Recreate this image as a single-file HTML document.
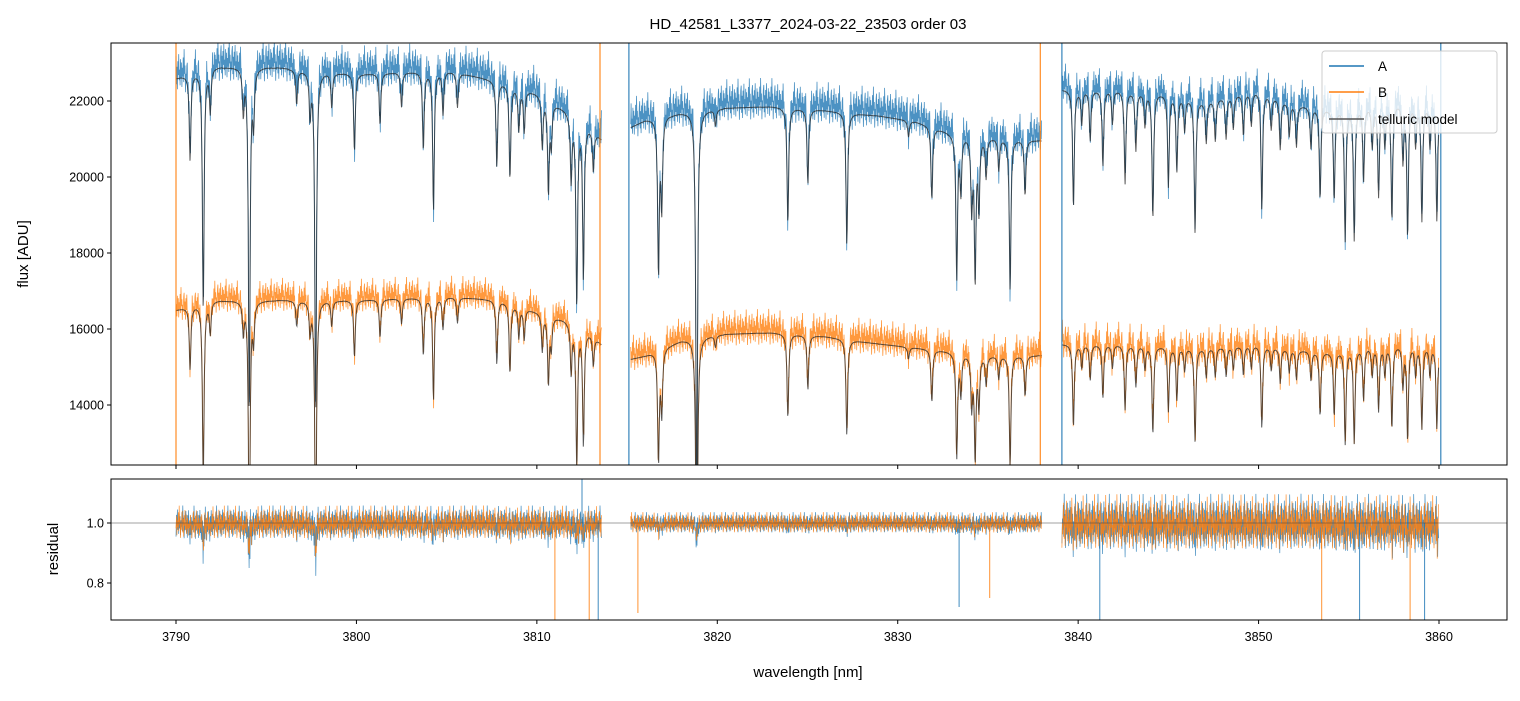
<!DOCTYPE html>
<html><head><meta charset="utf-8"><style>
body{margin:0;background:#fff;}
svg text{font-family:"Liberation Sans","DejaVu Sans",sans-serif;fill:#000;}
</style></head><body>
<svg id="c" width="1520" height="696" xmlns="http://www.w3.org/2000/svg">
<text x="808" y="29" font-size="15" text-anchor="middle">HD_42581_L3377_2024-03-22_23503  order 03</text>
<text transform="translate(28,254) rotate(-90)" font-size="15" text-anchor="middle">flux [ADU]</text>
<text transform="translate(58,549) rotate(-90)" font-size="15" text-anchor="middle">residual</text>
<text x="808" y="677" font-size="15" text-anchor="middle">wavelength [nm]</text>
<defs><clipPath id="ct"><rect x="111" y="43" width="1396" height="422"/></clipPath><clipPath id="cb"><rect x="111" y="479" width="1396" height="141"/></clipPath></defs>
<g id="topg" clip-path="url(#ct)"></g>
<g id="botg" clip-path="url(#cb)"></g>
<rect x="111" y="43" width="1396" height="422" fill="none" stroke="#000" stroke-width="1"/>
<rect x="111" y="479" width="1396" height="141" fill="none" stroke="#000" stroke-width="1"/>
<g id="ticks"></g>
<g>
<rect x="1322" y="51" width="175" height="82" rx="3" fill="#fff" fill-opacity="0.8" stroke="#ccc"/>
<line x1="1329" y1="66" x2="1364" y2="66" stroke="#1f77b4" stroke-width="1.5"/>
<text x="1378" y="71" font-size="13.5">A</text>
<line x1="1329" y1="92" x2="1364" y2="92" stroke="#ff7f0e" stroke-width="1.5"/>
<text x="1378" y="97" font-size="13.5">B</text>
<line x1="1329" y1="119" x2="1364" y2="119" stroke="#555" stroke-width="1.5"/>
<text x="1378" y="124" font-size="13.5">telluric model</text>
</g>
</svg>
<script>
const segStarts=[3790.0,3815.2,3839.1];
const segEnds=[3813.6,3838.0,3860.0];
const lineCenters=[3790.78,3791.51,3791.9,3793.73,3794.06,3794.3,3796.69,3797.43,3797.74,3798.63,3799.89,3801.31,3802.5,3803.71,3804.27,3804.8,3805.6,3807.78,3808.51,3809.0,3809.3,3810.3,3810.64,3810.8,3811.9,3812.21,3812.58,3813.13,
3816.74,3816.92,3818.86,3819.9,3823.91,3825.02,3827.18,3830.6,3831.89,3833.27,3833.5,3834.1,3834.29,3834.5,3834.9,3835.6,3836.23,3837.06,
3839.74,3840.2,3840.67,3841.37,3841.9,3842.6,3843.2,3843.7,3844.14,3845.0,3845.47,3845.9,3846.48,3847.1,3847.6,3848.2,3848.6,3849.16,3849.6,3850.18,3850.7,3851.2,3851.7,3852.1,3852.9,3853.41,3854.19,3854.8,3855.3,3855.82,3856.3,3856.65,3857.0,3857.39,3858.0,3858.26,3858.7,3859.05,3859.5,3859.88];
const lineDepths=[0.1,0.28,0.05,0.05,0.4,0.06,0.04,0.05,0.4,0.04,0.09,0.06,0.04,0.09,0.16,0.05,0.04,0.1,0.11,0.05,0.05,0.06,0.11,0.05,0.08,0.23,0.19,0.05,
0.19,0.11,0.5,0.02,0.14,0.09,0.16,0.02,0.09,0.18,0.07,0.09,0.18,0.09,0.05,0.04,0.19,0.07,
0.14,0.04,0.06,0.09,0.04,0.11,0.07,0.04,0.15,0.11,0.09,0.04,0.16,0.05,0.05,0.05,0.04,0.05,0.04,0.14,0.04,0.06,0.04,0.05,0.05,0.11,0.11,0.16,0.16,0.09,0.05,0.11,0.05,0.14,0.07,0.16,0.05,0.14,0.05,0.14];
const contKnotsW=[3790,3792,3795,3800,3805,3808,3810,3811.5,3813,3813.6,3815.2,3816,3818,3820,3823,3826,3829,3831,3833,3835,3838,3839.1,3842,3845,3847,3850,3852,3854,3856,3858,3860];
const contA=[22600,22900,22900,22700,22800,22500,22200,21800,21300,21000,21300,21500,21700,21800,21850,21750,21600,21450,21150,21050,20950,22300,22300,22200,22000,22300,21900,21800,21900,22000,21900];
const contB=[16500,16750,16750,16750,16850,16750,16450,16250,15900,15600,15200,15300,15700,15850,15900,15800,15600,15500,15400,15300,15300,15600,15600,15550,15500,15600,15450,15400,15550,15600,15550];
const noiseA=[460,450,430];
const noiseB=[360,390,410];
const residNoise=[0.045,0.028,0.075];
const residSpikeW=[3811.0,3812.5,3812.9,3813.4,3815.6,3833.4,3835.1,3841.2,3853.5,3855.6,3858.4,3859.2];
const residSpikeV=[0.67,1.15,0.67,0.67,0.7,0.72,0.75,0.67,0.67,0.67,0.67,0.67];
const yTicks=[14000,16000,18000,20000,22000];
const rTicks=[0.8,1.0];
const xTicks=[3790,3800,3810,3820,3830,3840,3850,3860];
const edgeSpikesA=[3815.1,3839.1,3860.1];
const edgeSpikesB=[3790.0,3813.5,3837.9];
const pattern=[0.9,-0.7,0.3,-1,0.6,-0.2,1,-0.5,0.1,-0.8,0.7,-0.4,0.5,-0.9,0.2,-0.3,0.8,-0.6,1.3,-0.1,0.4,-1.1,0.0,-0.5,0.6];

const X=w=>176+(w-3790)*18.043;
const Y=f=>101+(22000-f)*0.038;
const R=r=>523-(r-1)*300;
const NS='http://www.w3.org/2000/svg';
function interp(xs,ys,x){for(let i=0;i<xs.length-1;i++){if(x>=xs[i]&&x<=xs[i+1]){return ys[i]+(ys[i+1]-ys[i])*(x-xs[i])/(xs[i+1]-xs[i]);}}return x<xs[0]?ys[0]:ys[ys.length-1];}
function trans(w){let t=1;const g=0.055;for(let i=0;i<lineCenters.length;i++){const d=w-lineCenters[i];if(Math.abs(d)<1.5)t*=1-lineDepths[i]*g*g/(d*d+g*g);}return t;}
function poly(parent,pts,color,width,op,name){const p=document.createElementNS(NS,'polyline');p.setAttribute('points',pts.map(q=>q[0].toFixed(1)+','+q[1].toFixed(1)).join(' '));p.setAttribute('fill','none');p.setAttribute('stroke',color);p.setAttribute('stroke-width',width);p.setAttribute('stroke-opacity',op);


parent.appendChild(p);return p;}
const topG=document.getElementById('topg'),botG=document.getElementById('botg');
const step=0.025;
for(let s=0;s<3;s++){
  const dA=[],dB=[],mA=[],mB=[],rA=[],rB=[];let k=s*5;
  for(let w=segStarts[s];w<=segEnds[s];w+=step){
    const t=trans(w);const cA=interp(contKnotsW,contA,w)*t,cB=interp(contKnotsW,contB,w)*t;
    const L=pattern.length;
    const pa=pattern[k%L],pb=pattern[(k+7)%L],pr=pattern[(k+3)%L],pr2=pattern[(k+11)%L];k++;
    dA.push([X(w),Y(cA+180+pa*noiseA[s])]);dB.push([X(w),Y(cB+130+pb*noiseB[s])]);
    mA.push([X(w),Y(cA)]);mB.push([X(w),Y(cB)]);
    const dip=(1-t)*(s==1?0.15:0.35);
    rA.push([X(w),R(1-dip*(pa>0?1:0.2)+pr*residNoise[s])]);rB.push([X(w),R(1-dip*(pb>0?1:0.2)+pr2*residNoise[s])]);
  }
  poly(topG,dA,'#1f77b4',0.8,0.8,'series-a-seg'+(s+1));
  poly(topG,dB,'#ff7f0e',0.8,0.8,'series-b-seg'+(s+1));
  poly(topG,mA,'#222',1,0.75,'model-a-seg'+(s+1));
  poly(topG,mB,'#222',1,0.75,'model-b-seg'+(s+1));
  poly(botG,rA,'#1f77b4',0.7,0.85,'residual-a-seg'+(s+1));
  poly(botG,rB,'#ff7f0e',0.7,0.85,'residual-b-seg'+(s+1));
}
residSpikeW.forEach((w,i)=>{poly(botG,[[X(w),R(1)],[X(w),R(residSpikeV[i])]],i%2?'#1f77b4':'#ff7f0e',1,0.85,'residual-spike-'+i);});
edgeSpikesA.forEach((w,i)=>{poly(topG,[[X(w),43],[X(w),465]],'#1f77b4',1.2,0.9,'spike-a-'+i);});
edgeSpikesB.forEach((w,i)=>{poly(topG,[[X(w),43],[X(w),465]],'#ff7f0e',1.2,0.9,'spike-b-'+i);});
const hl=document.createElementNS(NS,'line');hl.setAttribute('x1',111);hl.setAttribute('x2',1507);hl.setAttribute('y1',R(1));hl.setAttribute('y2',R(1));hl.setAttribute('stroke','#444');hl.setAttribute('stroke-width',0.6);


botG.appendChild(hl);
const tg=document.getElementById('ticks');
function tline(x1,y1,x2,y2){const l=document.createElementNS(NS,'line');l.setAttribute('x1',x1);l.setAttribute('y1',y1);l.setAttribute('x2',x2);l.setAttribute('y2',y2);l.setAttribute('stroke','#000');


tg.appendChild(l);}
function ttext(x,y,s,anchor,name){const t=document.createElementNS(NS,'text');t.setAttribute('x',x);t.setAttribute('y',y);t.setAttribute('font-size','12.5');t.setAttribute('text-anchor',anchor);t.textContent=s;


tg.appendChild(t);}
yTicks.forEach(v=>{tline(107,Y(v),111,Y(v));ttext(104,Y(v)+4.5,String(v),'end','y-tick-label');});
rTicks.forEach(v=>{tline(107,R(v),111,R(v));ttext(104,R(v)+4.5,v.toFixed(1),'end','residual-tick-label');});
xTicks.forEach(v=>{tline(X(v),465,X(v),469);tline(X(v),620,X(v),624);ttext(X(v),641,String(v),'middle','x-tick-label');});
</script>
</body></html>
